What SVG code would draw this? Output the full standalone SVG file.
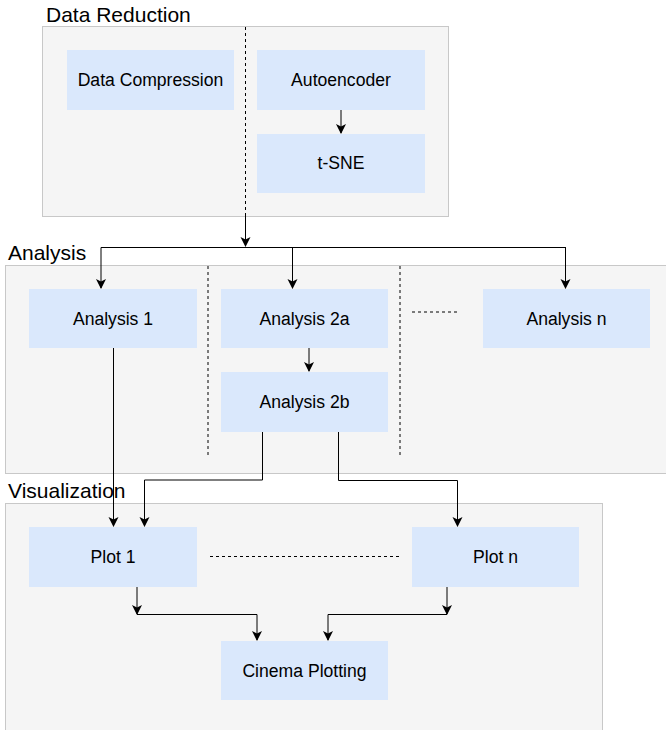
<svg xmlns="http://www.w3.org/2000/svg" width="666" height="730" viewBox="0 0 666 730">
<style>
.cont{fill:#f5f5f5;stroke:#c8c8c8;stroke-width:1}
.box{fill:#dae8fc;stroke:none}
.lbl{font-family:"Liberation Sans",Arial,sans-serif;font-size:21px;fill:#000}
.txt{font-family:"Liberation Sans",Arial,sans-serif;font-size:17.6px;fill:#000;text-anchor:middle}
.edge{fill:none;stroke:#000;stroke-width:1}
.dash{fill:none;stroke:#000;stroke-width:1;stroke-dasharray:3 3}
</style>
<defs>
<marker id="arr" markerWidth="10" markerHeight="12" refX="9" refY="5" orient="auto" markerUnits="userSpaceOnUse">
<path d="M0,0 L10,5 L0,10 L2.5,5 Z" fill="#000"/>
</marker>
</defs>
<g id="containers">
<g id="data-reduction">
<rect class="cont" x="42.5" y="26.5" width="406" height="190"/>
<text class="lbl" x="46" y="22">Data Reduction</text>
</g>
<g id="analysis">
<rect class="cont" x="5.5" y="265.5" width="665" height="208"/>
<text class="lbl" x="8" y="260">Analysis</text>
</g>
<g id="visualization">
<rect class="cont" x="5.5" y="503.5" width="597" height="240"/>
<text class="lbl" x="8" y="498">Visualization</text>
</g>
</g>
<g id="separators">
<line class="dash" x1="245.5" y1="27" x2="245.5" y2="216"/>
<line class="dash" x1="208" y1="266" x2="208" y2="455"/>
<line class="dash" x1="400" y1="266" x2="400" y2="455"/>
<line class="dash" x1="412" y1="312" x2="460" y2="312"/>
<line class="dash" x1="210" y1="556.5" x2="400" y2="556.5"/>
</g>
<g id="n-data-compression"><rect class="box" x="67" y="50" width="167" height="60"/><text class="txt" x="150.5" y="86">Data Compression</text></g>
<g id="n-autoencoder"><rect class="box" x="257" y="50" width="168" height="60"/><text class="txt" x="341" y="86">Autoencoder</text></g>
<g id="n-tsne"><rect class="box" x="257" y="134" width="168" height="59"/><text class="txt" x="341" y="169">t-SNE</text></g>
<g id="n-analysis1"><rect class="box" x="29" y="289" width="168" height="59"/><text class="txt" x="113" y="325">Analysis 1</text></g>
<g id="n-analysis2a"><rect class="box" x="221" y="289" width="167" height="59"/><text class="txt" x="304.5" y="325">Analysis 2a</text></g>
<g id="n-analysisn"><rect class="box" x="483" y="289" width="167" height="59"/><text class="txt" x="566.5" y="325">Analysis n</text></g>
<g id="n-analysis2b"><rect class="box" x="221" y="372" width="167" height="60"/><text class="txt" x="304.5" y="408">Analysis 2b</text></g>
<g id="n-plot1"><rect class="box" x="29" y="527" width="168" height="60"/><text class="txt" x="113" y="563">Plot 1</text></g>
<g id="n-plotn"><rect class="box" x="412" y="527" width="167" height="60"/><text class="txt" x="495.5" y="563">Plot n</text></g>
<g id="n-cinema"><rect class="box" x="221" y="641" width="167" height="59"/><text class="txt" x="304.5" y="677">Cinema Plotting</text></g>
<g id="connectors">
<path class="edge" d="M341,110 V133" marker-end="url(#arr)"/>
<path class="edge" d="M245.5,216 V246" marker-end="url(#arr)"/>
<path class="edge" d="M101,247.5 H566"/>
<path class="edge" d="M101,247.5 V288" marker-end="url(#arr)"/>
<path class="edge" d="M292.5,247.5 V288" marker-end="url(#arr)"/>
<path class="edge" d="M565.5,247.5 V288" marker-end="url(#arr)"/>
<path class="edge" d="M309,348 V371" marker-end="url(#arr)"/>
<path class="edge" d="M113.5,348 V526" marker-end="url(#arr)"/>
<path class="edge" d="M262.5,432 V480 H144.5 V526" marker-end="url(#arr)"/>
<path class="edge" d="M338.5,432 V480.5 H457.5 V526" marker-end="url(#arr)"/>
<path class="edge" d="M137,587 V614" marker-end="url(#arr)"/>
<path class="edge" d="M137,614.5 H257 V640" marker-end="url(#arr)"/>
<path class="edge" d="M447,587 V614" marker-end="url(#arr)"/>
<path class="edge" d="M447,614.5 H328 V640" marker-end="url(#arr)"/>
</g>
</svg>
